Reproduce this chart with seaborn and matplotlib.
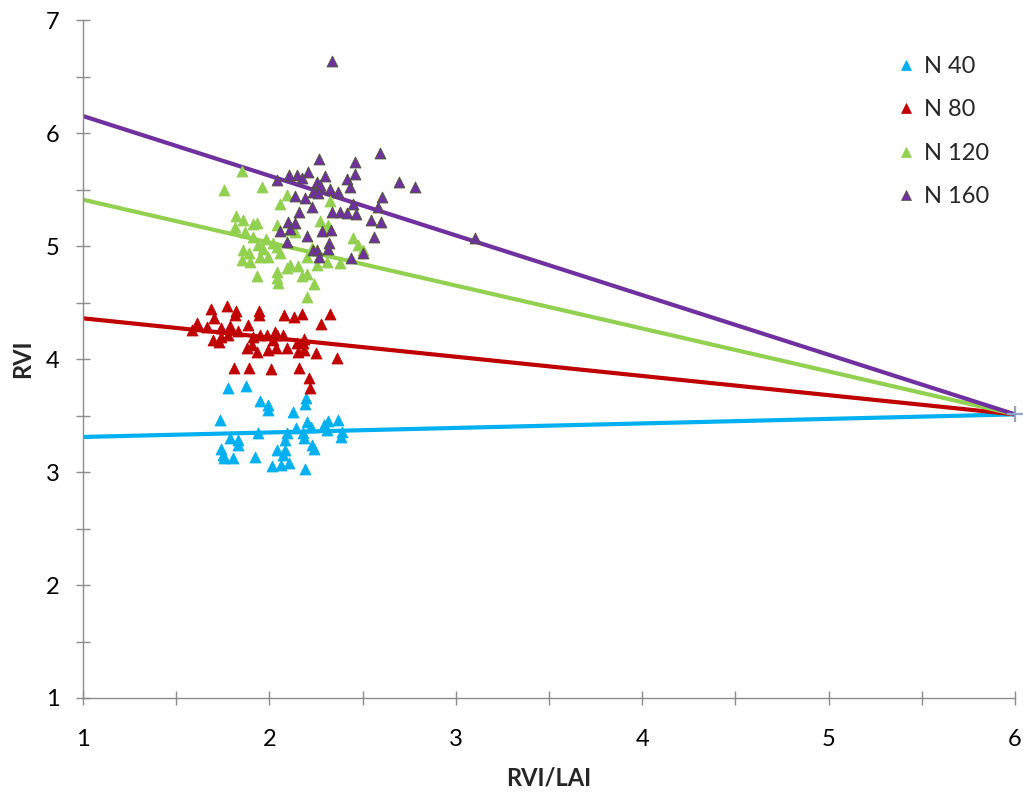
import numpy as np
import pandas as pd
import matplotlib
matplotlib.use("Agg")
import matplotlib.pyplot as plt
from matplotlib.lines import Line2D
from matplotlib.ticker import MultipleLocator
import seaborn as sns

# ---- data -----------------------------------------------------------------
series_names = ["N 40", "N 80", "N 120", "N 160"]
series_colors = ["#00B0F0", "#C00000", "#92D050", "#7030A0"]

n40_x = [1.776, 1.876, 1.950, 1.991, 1.992, 1.735, 2.125, 2.195, 2.193, 2.200,
         2.222, 2.291, 2.313, 2.370, 2.307, 2.389, 2.386, 1.789, 1.833, 1.833,
         1.939, 2.093, 2.141, 2.182, 2.186, 2.084, 1.739, 1.753, 1.756, 1.806,
         1.923, 2.039, 2.084, 2.071, 2.012, 2.061, 2.107, 2.193, 2.227, 2.241]
n40_y = [3.741, 3.761, 3.628, 3.593, 3.549, 3.460, 3.534, 3.652, 3.599, 3.445,
         3.401, 3.416, 3.451, 3.460, 3.372, 3.357, 3.312, 3.298, 3.283, 3.239,
         3.342, 3.342, 3.387, 3.342, 3.298, 3.283, 3.201, 3.150, 3.121, 3.121,
         3.135, 3.195, 3.195, 3.150, 3.053, 3.062, 3.077, 3.024, 3.239, 3.201]

n80_x = [1.687, 1.771, 1.821, 1.815, 1.703, 1.942, 1.946, 2.078, 2.132, 2.177,
         2.325, 2.277, 1.613, 1.583, 1.663, 1.740, 1.789, 1.780, 1.739, 1.699,
         1.730, 1.833, 1.884, 1.914, 1.950, 1.985, 2.030, 2.039, 2.071, 2.021,
         1.878, 1.932, 1.994, 2.035, 2.093, 2.146, 2.186, 2.155, 2.187, 2.250,
         2.364, 1.812, 1.889, 2.010, 2.157, 2.212, 2.218, 1.905, 2.182]
n80_y = [4.440, 4.469, 4.428, 4.389, 4.360, 4.428, 4.389, 4.389, 4.374, 4.398,
         4.398, 4.310, 4.321, 4.257, 4.286, 4.272, 4.292, 4.212, 4.197, 4.168,
         4.153, 4.250, 4.301, 4.197, 4.212, 4.212, 4.242, 4.212, 4.212, 4.168,
         4.095, 4.065, 4.080, 4.095, 4.095, 4.139, 4.174, 4.065, 4.080, 4.050,
         4.011, 3.923, 3.923, 3.909, 3.923, 3.829, 3.741, 4.124, 4.139]

n120_x = [1.851, 1.758, 1.959, 2.057, 2.093, 2.325, 1.819, 1.860, 1.914, 1.935,
          1.815, 1.869, 1.910, 1.982, 1.941, 1.964, 1.860, 1.892, 1.851, 1.896,
          1.950, 1.994, 2.057, 2.039, 2.111, 2.137, 2.271, 2.316, 2.289, 2.447,
          2.477, 2.501, 2.039, 2.227, 2.200, 2.307, 2.254, 2.379, 2.111, 2.155,
          2.093, 1.935, 2.039, 2.042, 2.048, 2.173, 2.200, 2.241, 2.200, 2.021]
n120_y = [5.667, 5.496, 5.519, 5.369, 5.451, 5.401, 5.265, 5.230, 5.195, 5.200,
          5.165, 5.127, 5.077, 5.059, 5.009, 4.971, 4.965, 4.935, 4.876, 4.861,
          4.905, 4.905, 4.935, 5.186, 5.142, 5.127, 5.224, 5.186, 5.142, 5.068,
          5.009, 4.965, 4.995, 4.980, 4.905, 4.861, 4.832, 4.847, 4.832, 4.823,
          4.803, 4.735, 4.773, 4.714, 4.670, 4.735, 4.752, 4.664, 4.551, 5.024]

n160_x = [2.334, 2.268, 2.593, 2.459, 2.459, 2.415, 2.432, 2.298, 2.209, 2.146,
          2.107, 2.173, 2.039, 2.254, 2.271, 2.236, 2.262, 2.325, 2.370, 2.139,
          2.191, 2.227, 2.160, 2.450, 2.606, 2.581, 2.334, 2.379, 2.415, 2.463,
          2.545, 2.599, 2.101, 2.137, 2.057, 2.111, 2.200, 2.284, 2.330, 2.093,
          2.321, 2.316, 2.561, 2.697, 2.781, 3.103, 2.232, 2.257, 2.268, 2.504,
          2.436]
n160_y = [6.640, 5.770, 5.820, 5.741, 5.637, 5.590, 5.525, 5.622, 5.658, 5.628,
          5.628, 5.599, 5.584, 5.569, 5.540, 5.481, 5.466, 5.504, 5.481, 5.442,
          5.422, 5.348, 5.298, 5.369, 5.431, 5.348, 5.304, 5.304, 5.289, 5.283,
          5.230, 5.212, 5.215, 5.200, 5.133, 5.148, 5.088, 5.133, 5.142, 5.038,
          5.024, 4.971, 5.082, 5.569, 5.519, 5.068, 4.965, 4.965, 4.905, 4.941,
          4.891]

# trend lines: y = intercept + slope * x
trend_slope = [0.040, -0.170, -0.380, -0.528]
trend_intercept = [3.270, 4.530, 5.790, 6.678]
trend_x_range = [1.0, 6.0]

# common point where the trend lines meet
meet_x = [6.0]
meet_y = [3.51]

x_ticks = [1, 2, 3, 4, 5, 6]
y_ticks = [1, 2, 3, 4, 5, 6, 7]

# ---- tidy frames ----------------------------------------------------------
xs = [n40_x, n80_x, n120_x, n160_x]
ys = [n40_y, n80_y, n120_y, n160_y]
points = pd.concat(
    [pd.DataFrame({"RVI/LAI": x, "RVI": y, "series": name})
     for x, y, name in zip(xs, ys, series_names)],
    ignore_index=True,
)
trend = pd.concat(
    [pd.DataFrame({"RVI/LAI": trend_x_range,
                   "RVI": [b + m * v for v in trend_x_range],
                   "series": name})
     for m, b, name in zip(trend_slope, trend_intercept, series_names)],
    ignore_index=True,
)
palette = dict(zip(series_names, series_colors))

# ---- figure ---------------------------------------------------------------
sns.set_theme(style="white")
plt.rcParams["font.family"] = ["Lato", "DejaVu Sans"]

fig = plt.figure(figsize=(10.23, 7.97), dpi=100)
ax = fig.add_axes([83 / 1023, 1 - 698 / 797, (1015 - 83) / 1023, (698 - 20) / 797])

sns.lineplot(data=trend, x="RVI/LAI", y="RVI", hue="series", palette=palette,
             linewidth=3.0, legend=False, ax=ax, zorder=2)

for name, color in zip(series_names, series_colors):
    sub = points[points["series"] == name]
    edge = "#4B5A2C" if name == "N 160" else color
    sns.scatterplot(data=sub, x="RVI/LAI", y="RVI", color=color, marker="^",
                    s=62, edgecolor=edge, linewidth=0.6, legend=False,
                    ax=ax, zorder=3)

ax.plot(meet_x, meet_y, marker="+", color="#8EA4C8", markersize=12,
        markeredgewidth=1.6, linestyle="none", clip_on=False, zorder=4)

ax.set_xlim(1, 6)
ax.set_ylim(1, 7)
ax.set_xticks(x_ticks)
ax.set_yticks(y_ticks)
ax.xaxis.set_minor_locator(MultipleLocator(0.5))
ax.yaxis.set_minor_locator(MultipleLocator(0.5))

for side in ["top", "right"]:
    ax.spines[side].set_visible(False)
for side in ["left", "bottom"]:
    ax.spines[side].set_color("#8C8C8C")
    ax.spines[side].set_linewidth(1.0)

ax.tick_params(axis="both", which="both", direction="inout", length=10,
               width=1.0, color="#8C8C8C", labelsize=17, labelcolor="black",
               bottom=True, left=True, top=False, right=False)
ax.tick_params(axis="x", which="major", pad=17)
ax.tick_params(axis="y", which="major", pad=12)
ax.grid(False)

ax.set_xlabel("RVI/LAI", fontsize=17, fontweight="bold", labelpad=12)
ax.set_ylabel("RVI", fontsize=17, fontweight="bold", labelpad=8)

handles = [Line2D([0], [0], marker="^", linestyle="none", color=c,
                  markeredgecolor=("#4B5A2C" if n == "N 160" else c),
                  markeredgewidth=0.5, markersize=7)
           for n, c in zip(series_names, series_colors)]
ax.legend(handles, series_names, loc="upper left",
          bbox_to_anchor=(897 / 1023, 1 - 56 / 797),
          bbox_transform=fig.transFigure, frameon=False, fontsize=17,
          handlelength=0.8, handletextpad=0.35, labelspacing=0.95,
          borderaxespad=0, borderpad=0)

fig.savefig("out.png", dpi=100)
